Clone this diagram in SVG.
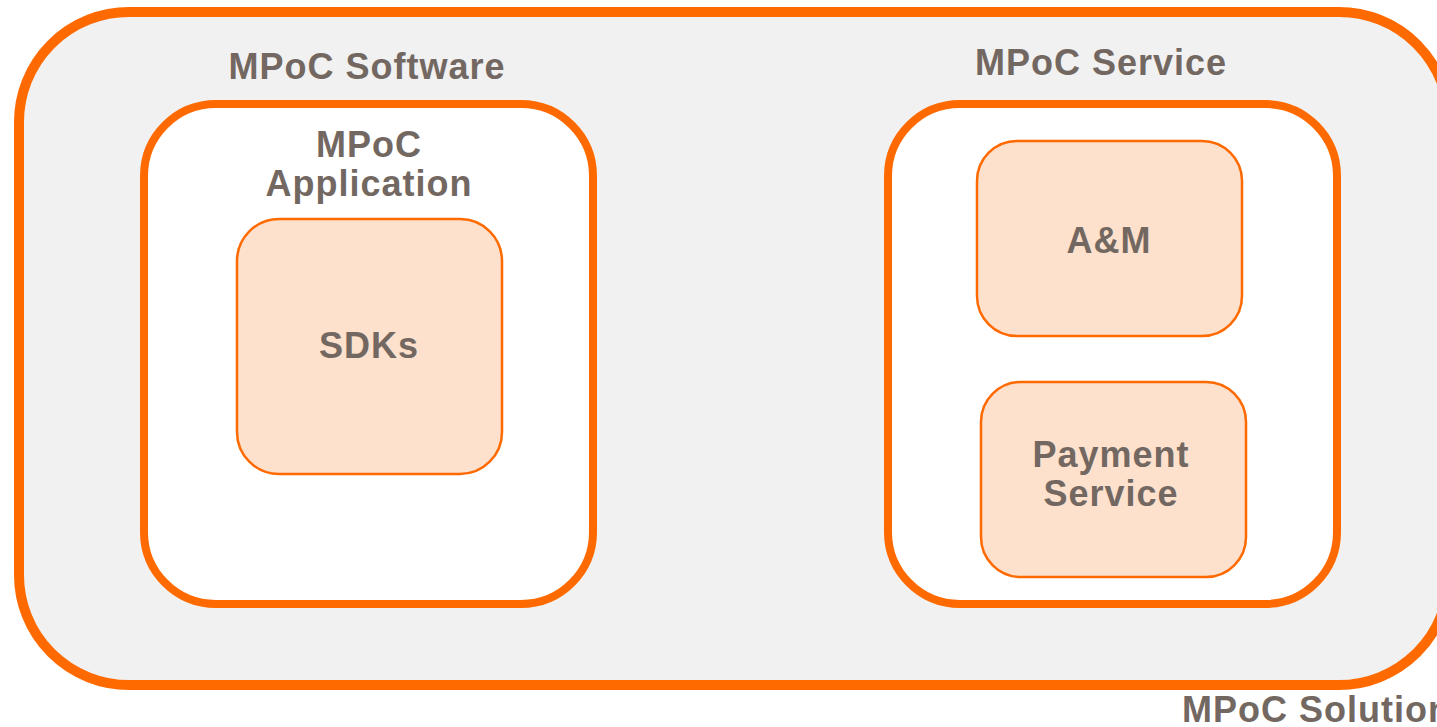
<svg xmlns="http://www.w3.org/2000/svg" width="1437" height="727" viewBox="0 0 1437 727">
<style>
.big{stroke:#FF6A00;stroke-width:10;fill:#F1F1F1}
.mid{stroke:#FF6A00;stroke-width:8;fill:#FFFFFF}
.small{stroke:#FF6A00;stroke-width:2.5;fill:#FDE1CD}
text{font-family:"Liberation Sans",Arial,sans-serif;font-weight:bold;font-size:36px;letter-spacing:1px;fill:#736861}
.c{text-anchor:middle}
</style>
<rect width="1437" height="727" fill="#FFFFFF"/>
<g id="solution">
<rect class="big" x="19" y="12" width="1430" height="673" rx="110" ry="110"/>
<text x="1182" y="722">MPoC Solution</text>
</g>
<g id="software">
<rect class="mid" x="144" y="104" width="449" height="500" rx="72" ry="72"/>
<text class="c" x="367" y="79">MPoC Software</text>
<text class="c" x="369" y="157">MPoC</text>
<text class="c" x="369" y="196">Application</text>
</g>
<g id="sdks">
<rect class="small" x="237" y="219" width="265" height="255" rx="42" ry="42"/>
<text class="c" x="369" y="358">SDKs</text>
</g>
<g id="service">
<rect class="mid" x="888" y="104" width="449" height="500" rx="72" ry="72"/>
<text class="c" x="1101" y="75">MPoC Service</text>
</g>
<g id="am">
<rect class="small" x="977" y="141" width="265" height="195" rx="40" ry="40"/>
<text class="c" x="1109" y="253">A&amp;M</text>
</g>
<g id="payment">
<rect class="small" x="981" y="382" width="265" height="195" rx="40" ry="40"/>
<text class="c" x="1111" y="467">Payment</text>
<text class="c" x="1111" y="506">Service</text>
</g>
<g id="connectors"></g>
</svg>
